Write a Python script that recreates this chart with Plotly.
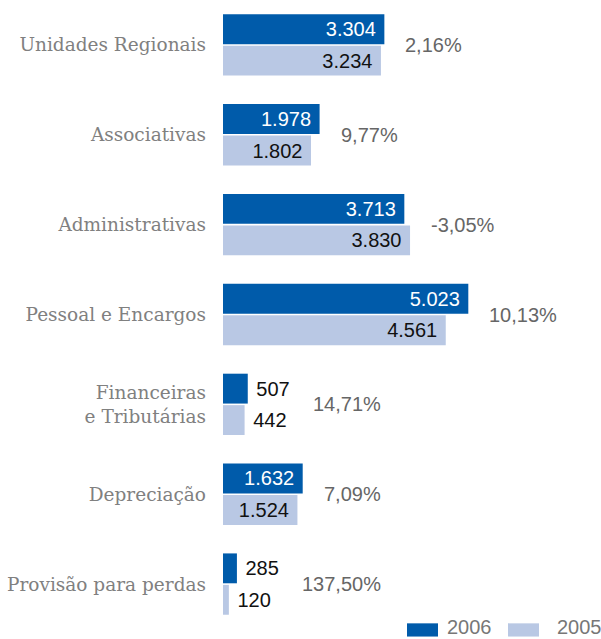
import plotly.graph_objects as go

categories = ["Unidades Regionais", "Associativas", "Administrativas", "Pessoal e Encargos",
              "Financeiras<br>e Tributárias", "Depreciação", "Provisão para perdas"]
values_2006 = [3304, 1978, 3713, 5023, 507, 1632, 285]
values_2005 = [3234, 1802, 3830, 4561, 442, 1524, 120]
variation = ["2,16%", "9,77%", "-3,05%", "10,13%", "14,71%", "7,09%", "137,50%"]
series_names = ["2006", "2005"]

DARK = "#005BAA"
LIGHT = "#B9C8E4"
NB = "\u00a0"
THRESH = 1000
SANS = "Liberation Sans, Arial, sans-serif"


def fmt(v):
    return f"{v:,}".replace(",", ".")


def labels(vals):
    return [fmt(v) + NB if v > THRESH else NB + fmt(v) for v in vals]


def positions(vals):
    return ["inside" if v > THRESH else "outside" for v in vals]


fig = go.Figure()
for name, vals, col, tcol in [(series_names[0], values_2006, DARK, "white"),
                              (series_names[1], values_2005, LIGHT, "#111111")]:
    fig.add_trace(go.Bar(
        y=categories, x=vals, name=name, orientation="h",
        marker=dict(color=col, line=dict(width=0)),
        text=labels(vals), textposition=positions(vals),
        insidetextanchor="end",
        insidetextfont=dict(family=SANS, size=20, color=tcol),
        outsidetextfont=dict(family=SANS, size=20, color="#111111"),
        cliponaxis=False, hoverinfo="skip",
    ))

for cat, a, b, pct in zip(categories, values_2006, values_2005, variation):
    m = max(a, b)
    shift = 19 if min(a, b) > THRESH else 63
    fig.add_annotation(x=m, y=cat, xref="x", yref="y", text=pct, showarrow=False,
                       xanchor="left", yanchor="middle", xshift=shift,
                       font=dict(family=SANS, size=20, color="#666666"))

# custom legend
W = 601 - 223
for i, (name, col) in enumerate(zip(series_names, [DARK, LIGHT])):
    x0 = (407 - 223 + i * 101) / W
    x1 = (438 - 223 + i * 101) / W
    fig.add_shape(type="rect", xref="paper", yref="paper", x0=x0, x1=x1,
                  y0=-0.012, y1=0.009, fillcolor=col, line=dict(width=0))
    fig.add_annotation(x=(445 - 223 + i * 110) / W, y=-0.006, xref="paper", yref="paper",
                       text=name, showarrow=False, xanchor="left", yanchor="middle",
                       yshift=6,
                       font=dict(family=SANS, size=20, color="#777777"))

fig.update_layout(
    width=601, height=639,
    margin=dict(l=223, r=0, t=0, b=10, autoexpand=False),
    barmode="group", bargap=0.30, bargroupgap=0.05,
    showlegend=False,
    plot_bgcolor="white", paper_bgcolor="white",
    separators=",.",
    xaxis=dict(range=[0, 7740], visible=False, showgrid=False, zeroline=False),
    yaxis=dict(autorange="reversed", showgrid=False, zeroline=False, showline=False,
               ticks="", ticklabelstandoff=16, automargin=False,
               tickfont=dict(family="DejaVu Serif, serif", size=18.5, color="#808080")),
)

fig.write_html("out.html", config={"displayModeBar": False},
               post_script="document.body.style.margin='0';")
